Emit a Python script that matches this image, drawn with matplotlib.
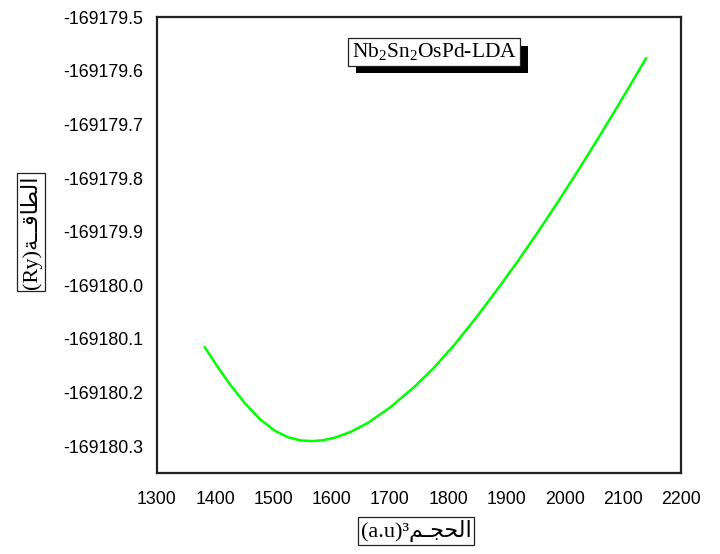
import matplotlib
matplotlib.use("Agg")
import matplotlib.pyplot as plt
from matplotlib.patches import Rectangle

# Total energy versus cell volume (Nb2Sn2OsPd, LDA)
volume = [1382, 1403, 1425, 1451, 1477, 1502, 1525, 1547, 1567, 1585,
          1605, 1633, 1663, 1700, 1742, 1775, 1811, 1850, 1889, 1920,
          1952, 1985, 2018, 2050, 2084, 2112, 2140]
energy = [-169180.1152, -169180.1502, -169180.1842, -169180.2198, -169180.2497,
          -169180.2709, -169180.2834, -169180.2893, -169180.2905, -169180.2889,
          -169180.2843, -169180.2732, -169180.2560, -169180.2279, -169180.1893,
          -169180.1543, -169180.1104, -169180.0574, -169180.0009, -169179.9541,
          -169179.9039, -169179.8501, -169179.7945, -169179.7390, -169179.6785,
          -169179.6277, -169179.5760]

x_ticks = [1300, 1400, 1500, 1600, 1700, 1800, 1900, 2000, 2100, 2200]
y_ticks = [-169180.3, -169180.2, -169180.1, -169180.0, -169179.9,
           -169179.8, -169179.7, -169179.6, -169179.5]
y_tick_labels = ["-169180.3", "-169180.2", "-169180.1", "-169180.0", "-169179.9",
                 "-169179.8", "-169179.7", "-169179.6", "-169179.5"]

title_text = r"Nb$_2$Sn$_2$OsPd-LDA"
# Arabic labels written in display order with contextual letter forms
x_label = "(a.u)\u00b3" + "\ufee2\u0640\ufea0\ufea4\ufedf\ufe8d"
y_label = "(Ry)" + "\ufe94\u0640\u0640\ufed7\ufe8e\ufec4\ufedf\ufe8d"

plt.rcParams["mathtext.fontset"] = "custom"
plt.rcParams["mathtext.rm"] = "Liberation Serif"
plt.rcParams["mathtext.it"] = "Liberation Serif:italic"

fig = plt.figure(figsize=(7.2, 5.54), dpi=100)
ax = fig.add_axes([0.218, 0.1462, 0.728, 0.8226])

ax.plot(volume, energy, color="#00ff00", linewidth=1.8,
        solid_joinstyle="round", solid_capstyle="round")

ax.set_xlim(1300, 2200)
ax.set_ylim(-169180.35, -169179.5)
ax.set_xticks(x_ticks)
ax.set_xticklabels([str(v) for v in x_ticks])
ax.set_yticks(y_ticks)
ax.set_yticklabels(y_tick_labels)
ax.tick_params(length=0, labelsize=12.8)
ax.tick_params(axis="x", pad=13)
ax.tick_params(axis="y", pad=10)
for lab in ax.get_xticklabels() + ax.get_yticklabels():
    lab.set_family("Liberation Sans")
for sp in ax.spines.values():
    sp.set_linewidth(1.6)
    sp.set_color("#222222")

# Boxed compound name
title = ax.text(0.529, 0.924, title_text, transform=ax.transAxes, ha="center",
                va="center", fontsize=15.5, family="Liberation Serif", color="black",
                zorder=5,
                bbox=dict(boxstyle="square,pad=0.15", facecolor="white",
                          edgecolor="#222222", linewidth=0.9))

fig.text(416 / 720, 1 - 531 / 554, x_label, ha="center", va="center",
         fontsize=16, family=["Liberation Serif", "DejaVu Sans"],
         bbox=dict(boxstyle="square,pad=0.12", facecolor="white", edgecolor="#222222",
                   linewidth=0.9))
fig.text(31 / 720, 1 - 232 / 554, y_label, ha="center", va="center", rotation=90,
         fontsize=16, family=["Liberation Serif", "DejaVu Sans"],
         bbox=dict(boxstyle="square,pad=0.12", facecolor="white", edgecolor="#222222",
                   linewidth=0.9))

# Drop shadow behind the name box
fig.canvas.draw()
bb = title.get_bbox_patch().get_window_extent(fig.canvas.get_renderer())
shadow = Rectangle((bb.x0 + 7.5, bb.y0 - 7.5), bb.width, bb.height,
                   transform=None, facecolor="black", edgecolor="none", zorder=4)
ax.add_artist(shadow)

fig.savefig("out.png", dpi=100)
